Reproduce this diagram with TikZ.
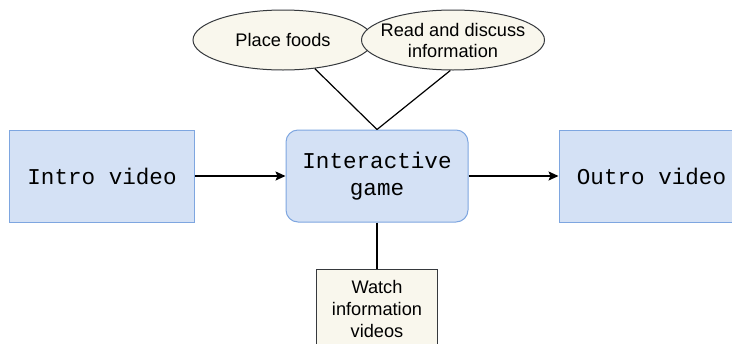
\documentclass[tikz,border=0pt]{standalone}
\usepackage{fontspec}
\setmainfont{Liberation Sans}
\setmonofont{Liberation Mono}
\usetikzlibrary{arrows.meta,positioning,shapes.geometric}
\definecolor{boxfill}{HTML}{D4E1F5}
\definecolor{boxline}{HTML}{7EA6E0}
\definecolor{cream}{HTML}{F9F7ED}
\definecolor{ink}{HTML}{36393D}

\begin{document}
\begin{tikzpicture}[x=0.5pt,y=-0.5pt,>={Stealth[length=5pt,width=4.5pt,inset=1pt]},
step box/.style={draw=boxline,fill=boxfill,line width=0.5pt,minimum width=92.5pt,minimum height=46pt,align=center,font=\ttfamily\fontsize{11.3}{13.5}\selectfont},
task/.style={ellipse,draw=ink,fill=cream,line width=0.5pt,inner sep=0pt,minimum height=30pt,align=center,font=\fontsize{9.1}{10.5}\selectfont},
link/.style={line width=0.6pt,black}]
 \useasboundingbox (0,0) rectangle (732,343);
 \node[step box] (intro) at (102,176) {Intro video};
 \node[step box,rounded corners=6pt,minimum width=91pt] (game) at (377,176) {Interactive\\game};
 \node[step box] (outro) at (651.5,176) {Outro video};
 \node[task,minimum width=90pt] (foods) at (283,40) {Place foods};
 \node[task,minimum width=91.5pt,inner xsep=-4pt] (read) at (453,40) {Read and discuss\\information};
 \node[draw=ink,fill=cream,line width=0.5pt,minimum width=60.5pt,minimum height=40pt,align=center,font=\fontsize{9.1}{11}\selectfont] (watch) at (377,309) {Watch\\information\\videos};
 \draw[->,link,line width=0.75pt] (intro) -- (game);
 \draw[->,link,line width=0.75pt] (game) -- (outro);
 \draw[link] (foods.-42) -- (game.north);
 \draw[link] (read.-95) -- (game.north);
 \draw[link] (game.south) -- (watch.north);
\end{tikzpicture}
\end{document}
